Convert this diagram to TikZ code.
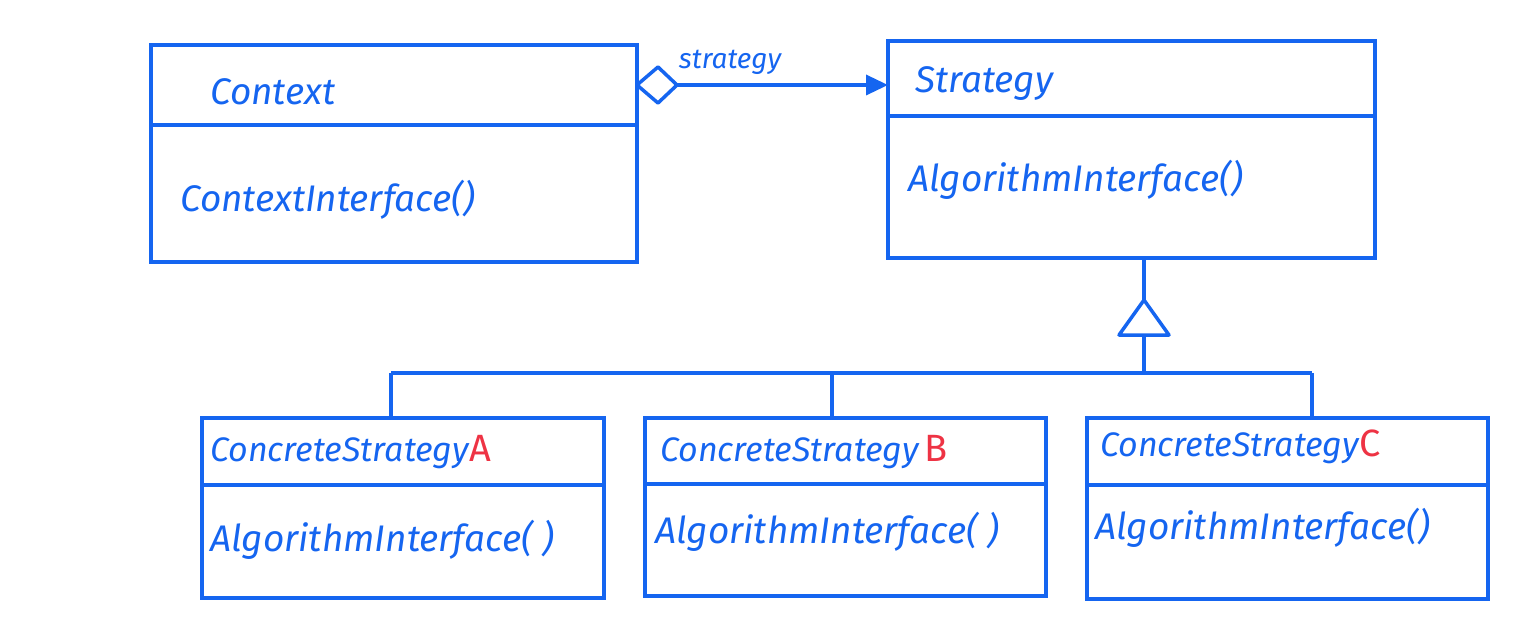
\documentclass[tikz,border=0pt]{standalone}
\usepackage{fontspec}
\setmainfont{Fira Sans}
\usetikzlibrary{arrows.meta}
\definecolor{umlblue}{HTML}{1565F0}
\definecolor{umlred}{HTML}{EE3344}
\tikzset{
  umlbox/.style={draw=umlblue, line width=3.5pt},
  umlline/.style={draw=umlblue, line width=3.5pt},
  lbl/.style={text=umlblue, anchor=west, inner sep=0pt, font=\fontsize{37}{40}\selectfont\itshape},
  clbl/.style={lbl, font=\fontsize{34}{38}\selectfont\itshape},
  redl/.style={},
}
\newcommand{\redletter}[1]{\textcolor{umlred}{\upshape\fontsize{38}{40}\selectfont #1}}
\begin{document}
\begin{tikzpicture}[x=1pt,y=-1pt]
\useasboundingbox (0,0) rectangle (1536,636);
% Context
\draw[umlbox] (151,45) rectangle (637,262);
\draw[umlline] (151,125) -- (637,125);
\node[lbl] (ctx) at (210,92) {Context};
\node[lbl] (ctxi) at (180,200) {ContextInterface()};
% Strategy
\draw[umlbox] (888,41) rectangle (1375,258);
\draw[umlline] (888,116) -- (1375,116);
\node[lbl] (str) at (915,84) {Strategy};
\node[lbl] (stri) at (908,180) {AlgorithmInterface()};
% A
\draw[umlbox] (202,418) rectangle (604,598);
\draw[umlline] (202,485) -- (604,485);
\node[clbl] (ca) at (210,452) {ConcreteStrategy\redletter{A}};
\node[lbl] (cai) at (210,540) {AlgorithmInterface( )};
% B
\draw[umlbox] (645,418) rectangle (1046,596);
\draw[umlline] (645,484) -- (1046,484);
\node[clbl] (cb) at (660,452) {ConcreteStrategy\,\redletter{B}};
\node[lbl] (cbi) at (655,532) {AlgorithmInterface( )};
% C
\draw[umlbox] (1087,418) rectangle (1488,599);
\draw[umlline] (1087,485) -- (1488,485);
\node[clbl] (cc) at (1100,447) {ConcreteStrategy\redletter{C}};
\node[lbl] (cci) at (1095,528) {AlgorithmInterface()};
% association
\coordinate (d0) at (637,85);
\coordinate (sl) at (888,85);
\draw[umlline, fill=white, line join=round] (d0) -- (658,67) -- (677,85) -- (658,103) -- cycle;
\draw[umlline, -{Triangle[length=22pt,width=20pt]}] (677,85) -- (sl);
\node[text=umlblue, inner sep=0pt, font=\fontsize{28}{30}\selectfont\itshape] (lab) at (730,62) {strategy};
% inheritance
\coordinate (sb) at (1144,258);
\coordinate (tt) at (1144,300);
\draw[umlline] (sb) -- (tt);
\draw[umlline, line join=round] (tt) -- (1169,335) -- (1119,335) -- cycle;
\draw[umlline] (1144,335) -- (1144,373);
\draw[umlline] (391,373) -- (1312,373);
\draw[umlline] (391,373) -- (391,418);
\draw[umlline] (832,373) -- (832,418);
\draw[umlline] (1312,373) -- (1312,418);
\end{tikzpicture}
\end{document}
